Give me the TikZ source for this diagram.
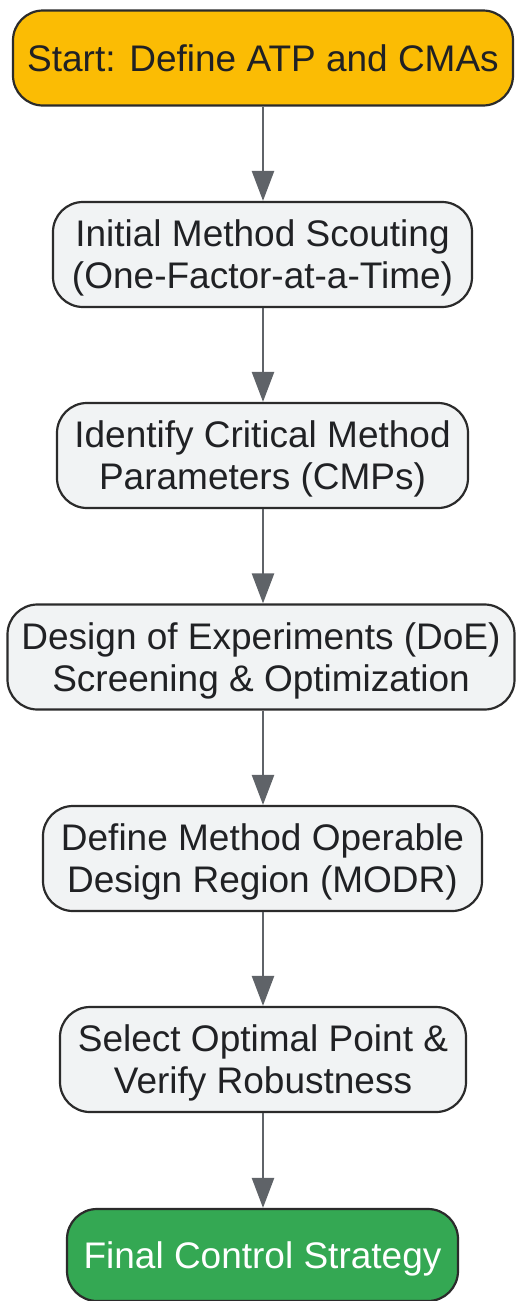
\documentclass[tikz,border=0pt]{standalone}
\usepackage{fontspec}
\setmainfont{Liberation Sans}
\usetikzlibrary{arrows.meta}
\definecolor{txt}{HTML}{202124}
\definecolor{bord}{HTML}{2B2B2B}
\definecolor{grayfill}{HTML}{F1F3F4}
\definecolor{yel}{HTML}{FBBC04}
\definecolor{grn}{HTML}{34A853}
\definecolor{arr}{HTML}{5F6368}
\tikzset{
  box/.style={draw=bord, line width=2.2pt, rounded corners=30pt, fill=grayfill,
    text=txt, align=center, inner sep=0pt, text depth=0pt,
    font=\fontsize{37}{42}\selectfont},
  flow/.style={draw=arr, line width=2.5pt, -{Triangle[width=22pt,length=30pt]}}
}
\begin{document}
\begin{tikzpicture}[x=1pt,y=1pt]
\useasboundingbox (0,0) rectangle (515,-1301);
\coordinate (ax) at (263,0);
\node[box, fill=yel, minimum width=500pt, minimum height=95pt] (n1) at (263,-58) {Start: Define ATP and CMAs};
\node[box, minimum width=419pt, minimum height=105pt] (n2) at (262.5,-254.5) {Initial Method Scouting\\(One-Factor-at-a-Time)};
\node[box, minimum width=411pt, minimum height=105pt] (n3) at (262.5,-455.5) {Identify Critical Method\\Parameters (CMPs)};
\node[box, minimum width=507pt, minimum height=105pt] (n4) at (261,-657) {Design of Experiments (DoE)\\Screening \& Optimization};
\node[box, minimum width=439pt, minimum height=105pt] (n5) at (262.5,-858.5) {Define Method Operable\\Design Region (MODR)};
\node[box, minimum width=406pt, minimum height=105pt] (n6) at (263,-1059.5) {Select Optimal Point \&\\Verify Robustness};
\node[box, fill=grn, text=white, minimum width=391pt, minimum height=92pt] (n7) at (262.5,-1255) {Final Control Strategy};
\draw[flow] (n1.south -| ax) -- (n2.north -| ax);
\draw[flow] (n2.south -| ax) -- (n3.north -| ax);
\draw[flow] (n3.south -| ax) -- (n4.north -| ax);
\draw[flow] (n4.south -| ax) -- (n5.north -| ax);
\draw[flow] (n5.south -| ax) -- (n6.north -| ax);
\draw[flow] (n6.south -| ax) -- (n7.north -| ax);
\end{tikzpicture}
\end{document}
